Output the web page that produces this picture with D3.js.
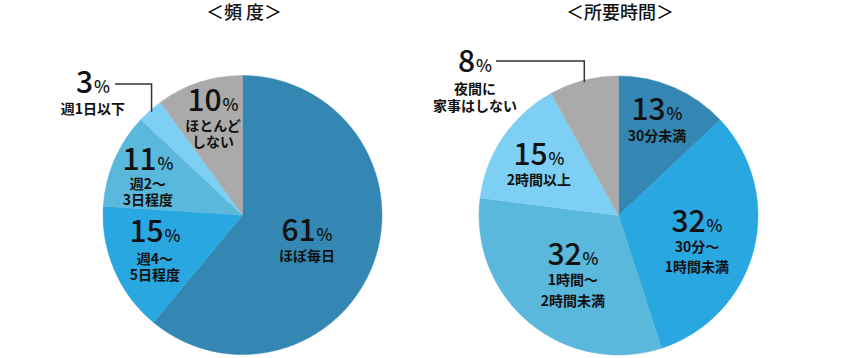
<!DOCTYPE html>
<html><head><meta charset="utf-8">
<script src="https://cdn.jsdelivr.net/npm/d3@7"></script>
<style>
html,body{margin:0;padding:0;background:#fff;}
text{font-family:"Noto Sans CJK JP","Noto Sans",sans-serif;fill:#111;}
</style></head>
<body><svg id="chart" width="850" height="358"></svg>
<script>
// ---- data ----
const freqCategories = ["ほぼ毎日", "週4～\n5日程度", "週2～\n3日程度", "週1日以下", "ほとんど\nしない"];
const freqValues = [61, 15, 11, 3, 10];
const timeCategories = ["30分未満", "30分～\n1時間未満", "1時間～\n2時間未満", "2時間以上", "夜間に\n家事はしない"];
const timeValues = [13, 32, 32, 15, 8];
const titles = ["＜頻 度＞", "＜所要時間＞"];
const colors = ["#3487b3", "#29a7e1", "#5ab8dc", "#7dcff4", "#aaaaaa"];

// ---- layout (label placement) ----
const layouts = [
  {cx: 242.5, cy: 215, r: 139.5, titleX: 244,
   labels: [[307,241,261,0],[155,242,264,15.5],[148,170,189,16],[93,93,114,0],[213,111,131,15.5]],
   leader: {slice: 3, y: 84, x0: 115}},
  {cx: 618.5, cy: 215.5, r: 139.5, titleX: 620,
   labels: [[657,120,141,0],[697,232,252,20],[573,265,285,21],[539,165,185,0],[475,72,94,16.5]],
   leader: {slice: 4, y: 61, x0: 496}}
];

const svg = d3.select("#chart");
const pie = d3.pie().sort(null).value(d => d);

[[freqCategories, freqValues], [timeCategories, timeValues]].forEach(([cats, vals], i) => {
  const L = layouts[i];
  const g = svg.append("g");
  g.append("text").attr("x", L.titleX).attr("y", 18.5).attr("text-anchor", "middle")
    .style("font-size", "18px").style("font-weight", 500).text(titles[i]);
  const arc = d3.arc().innerRadius(0).outerRadius(L.r);
  const arcs = pie(vals);
  const pg = g.append("g").attr("transform", `translate(${L.cx},${L.cy})`);
  pg.selectAll("path").data(arcs).join("path")
    .attr("d", arc).attr("fill", (d, j) => colors[j])
    .attr("stroke", (d, j) => colors[j]).attr("stroke-width", 0.5);

  // leader line
  const la = arcs[L.leader.slice];
  const mid = (la.startAngle + la.endAngle) / 2;
  const ex = L.cx + (L.r - 2) * Math.sin(mid);
  const ey = L.cy - (L.r - 2) * Math.cos(mid);
  g.append("path").attr("fill", "none").attr("stroke", "#333").attr("stroke-width", 1.5)
    .attr("d", `M${L.leader.x0},${L.leader.y}H${ex}V${ey}`);

  arcs.forEach((d, j) => {
    const [x, y, ly, gap] = L.labels[j];
    const t = g.append("text").attr("x", x).attr("y", y).attr("text-anchor", "middle");
    t.append("tspan").style("font-size", "30px").style("font-weight", 500).text(vals[j]);
    t.append("tspan").style("font-size", "17px").style("font-weight", 500).attr("dx", 1).text("%");
    cats[j].split("\n").forEach((line, k) => {
      g.append("text").attr("x", x).attr("y", ly + k * gap).attr("text-anchor", "middle")
        .style("font-size", "14px").style("font-weight", 700).text(line);
    });
  });
});
</script></body></html>
